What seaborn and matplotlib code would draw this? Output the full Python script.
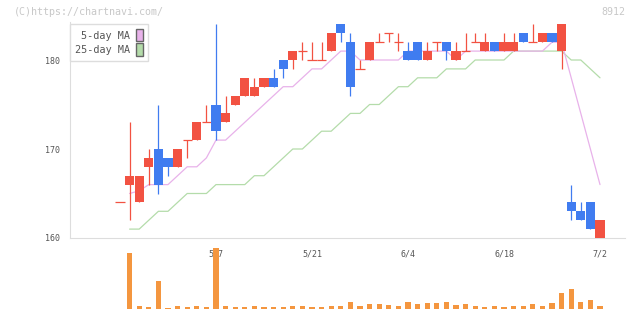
import matplotlib
matplotlib.use("Agg")
import matplotlib.pyplot as plt
from matplotlib.patches import Patch
import seaborn as sns
import numpy as np
import pandas as pd

days = ["4/18", "4/19", "4/22", "4/23", "4/24", "4/25", "4/26", "4/30", "5/1", "5/2",
        "5/7", "5/8", "5/9", "5/10", "5/13", "5/14", "5/15", "5/16", "5/17", "5/20",
        "5/21", "5/22", "5/23", "5/24", "5/27", "5/28", "5/29", "5/30", "5/31", "6/3",
        "6/4", "6/5", "6/6", "6/7", "6/10", "6/11", "6/12", "6/13", "6/14", "6/17",
        "6/18", "6/19", "6/20", "6/21", "6/24", "6/25", "6/26", "6/27", "6/28", "7/1",
        "7/2"]
opens = [164, 166, 164, 168, 170, 169, 168, 171, 171, 173,
         175, 173, 175, 176, 176, 177, 178, 180, 180, 181,
         180, 180, 181, 184, 182, 179, 180, 182, 183, 182,
         181, 182, 180, 182, 182, 180, 181, 182, 181, 182,
         181, 181, 183, 182, 182, 183, 181, 164, 163, 164,
         159]
highs = [164, 173, 167, 170, 175, 169, 170, 171, 173, 175,
         184, 176, 176, 178, 178, 178, 179, 180, 181, 182,
         182, 182, 183, 184, 183, 180, 182, 183, 183, 183,
         182, 182, 182, 182, 182, 182, 183, 183, 183, 182,
         183, 183, 183, 184, 183, 183, 184, 166, 164, 164,
         162]
lows = [164, 162, 164, 166, 165, 167, 168, 169, 171, 173,
        171, 173, 175, 176, 176, 177, 177, 178, 179, 180,
        180, 180, 181, 182, 176, 179, 180, 182, 182, 181,
        180, 180, 180, 181, 180, 180, 181, 182, 181, 181,
        181, 181, 182, 182, 182, 182, 179, 162, 162, 161,
        159]
closes = [164, 167, 167, 169, 166, 168, 170, 171, 173, 173,
          172, 174, 176, 178, 177, 178, 177, 179, 181, 181,
          180, 180, 183, 183, 177, 179, 182, 182, 183, 182,
          180, 180, 181, 182, 181, 181, 181, 182, 182, 181,
          182, 182, 182, 182, 183, 182, 184, 163, 162, 161,
          162]
volumes = [0, 169, 9, 6, 85, 3, 9, 6, 9, 6,
           184, 9, 6, 6, 9, 6, 6, 6, 9, 9,
           6, 6, 9, 9, 21, 9, 15, 15, 12, 9,
           21, 15, 18, 18, 21, 12, 15, 9, 6, 9,
           6, 9, 9, 15, 9, 18, 48, 60, 21, 27,
           9]
ma5 = [np.nan, 165, 165.3, 166, 166, 166, 167, 168, 168, 169,
       171, 171, 172, 173, 174, 175, 176, 177, 177, 178,
       179, 179, 180, 181, 181, 180, 180, 180, 180, 180,
       181, 181, 181, 181, 181, 180, 181, 181, 181, 181,
       181, 181, 181, 181, 181, 182, 182, 178, 174, 170,
       166]
ma25 = [np.nan, 161, 161, 162, 163, 163, 164, 165, 165, 165,
        166, 166, 166, 166, 167, 167, 168, 169, 170, 170,
        171, 172, 172, 173, 174, 174, 175, 175, 176, 177,
        177, 178, 178, 178, 179, 179, 179, 180, 180, 180,
        180, 181, 181, 181, 181, 181, 181, 180, 180, 179,
        178]
label_days = ["5/7", "5/21", "6/4", "6/18", "7/2"]
y_ticks = [160, 170, 180]
legend_labels = ["5-day MA", "25-day MA"]
watermark = "(C)https://chartnavi.com/"
code = "8912"

RED = "#f25242"
BLUE = "#407cf0"
ORANGE = "#f4963f"
PINK = "#e8b2ea"
GREEN = "#b4dcaa"
GRID = "#dddddd"
TXT = "#555555"

sns.set_theme(style="white")
plt.rcParams["font.family"] = ["DejaVu Sans Mono", "DejaVu Sans"]

fig = plt.figure(figsize=(6.4, 3.11), dpi=100)
W, H = 640, 311
ax = fig.add_axes([70 / W, 73 / H, 555 / W, 216 / H])
axv = fig.add_axes([70 / W, 2 / H, 555 / W, 63 / H])
axv.patch.set_alpha(0)

x = np.arange(len(days))
df = pd.DataFrame({"x": x, "ma5": ma5, "ma25": ma25, "vol": volumes})

# moving averages (behind candles)
sns.lineplot(data=df, x="x", y="ma25", ax=ax, color=GREEN, lw=0.9, zorder=1)
sns.lineplot(data=df, x="x", y="ma5", ax=ax, color=PINK, lw=0.9, zorder=1)

# candles
bw = 0.94
for i in range(len(days)):
    o, h, l, c = opens[i], highs[i], lows[i], closes[i]
    col = RED if c >= o else BLUE
    ax.vlines(i, l, h, color=col, lw=0.9, zorder=3)
    if o == c:
        ax.hlines(o, i - bw / 2, i + bw / 2, color=col, lw=0.9, zorder=3)
    else:
        ax.bar(i, abs(c - o), bottom=min(o, c), width=bw, color=col,
               linewidth=0, zorder=3)

xmin, xmax = -5.208, 52.604
ax.set_xlim(xmin, xmax)
ax.set_ylim(160, 184.27)
ax.set_xlabel("")
ax.set_ylabel("")
for s in ["top", "right"]:
    ax.spines[s].set_visible(False)
for s in ["left", "bottom"]:
    ax.spines[s].set_color(GRID)
    ax.spines[s].set_linewidth(0.8)

ax.set_yticks(y_ticks)
ax.set_yticklabels([str(v) for v in y_ticks])
ax.tick_params(axis="y", direction="inout", length=7, width=0.8, color=GRID,
               labelsize=6, labelcolor=TXT, pad=4)
ax.set_xticks([days.index(d) for d in label_days])
ax.set_xticklabels(label_days)
ax.set_xticks(np.linspace(xmin, xmax, 11), minor=True)
ax.tick_params(axis="x", which="major", length=0, pad=8, labelsize=6,
               labelcolor=TXT)
ax.tick_params(axis="x", which="minor", direction="inout", length=6.5,
               width=0.8, color=GRID)

handles = [Patch(facecolor=PINK, edgecolor="#666666", lw=1),
           Patch(facecolor=GREEN, edgecolor="#666666", lw=1)]
leg = ax.legend(handles, legend_labels, loc="upper left",
                bbox_to_anchor=(70 / W, 1 - 24 / H), bbox_transform=fig.transFigure,
                borderaxespad=0, markerfirst=False, fancybox=False,
                framealpha=1, edgecolor=GRID, fontsize=7.3, handlelength=0.65,
                handleheight=1.5, handletextpad=0.6, labelspacing=0.2,
                borderpad=0.5)
leg.get_frame().set_linewidth(1.0)
for t in leg.get_texts():
    t.set_color(TXT)
leg.set_zorder(10)

# volume
sns.barplot(data=df, x="x", y="vol", ax=axv, native_scale=True, width=0.56,
            color=ORANGE, saturation=1, linewidth=0)
axv.set_xlim(xmin, xmax)
axv.set_ylim(0, 189)
axv.axis("off")

fig.text(14 / W, 1 - 12 / H, watermark, ha="left", va="center", fontsize=7.2,
         color="#c8c8c8")
fig.text(625 / W, 1 - 12 / H, code, ha="right", va="center", fontsize=7.2,
         color="#c8c8c8")

fig.savefig("out.png", dpi=100)
